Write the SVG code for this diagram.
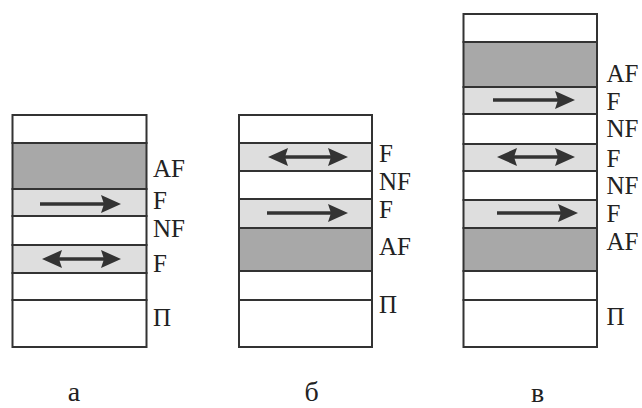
<svg xmlns="http://www.w3.org/2000/svg" width="642" height="408" viewBox="0 0 642 408">
<style>
.w{fill:#ffffff;stroke:#333333;stroke-width:2}
.d{fill:#a8a8a8;stroke:#333333;stroke-width:2}
.l{fill:#dedede;stroke:#333333;stroke-width:2}
.t{font-family:"Liberation Serif","Times New Roman",serif;font-size:25px;fill:#222222}
.c{font-family:"Liberation Serif","Times New Roman",serif;font-size:28px;fill:#222222;text-anchor:middle}
.ar{stroke:#333333;stroke-width:3.5;fill:none}
</style>
<defs>
<marker id="ah" markerUnits="userSpaceOnUse" markerWidth="20" markerHeight="18" viewBox="0 0 20 18" refX="10" refY="9" orient="auto-start-reverse">
<path d="M0,0 L20,9 L0,18 L3,9 z" fill="#333333"/>
</marker>
</defs>
<rect width="642" height="408" fill="#ffffff"/>
<g id="stack-a">
<rect class="w" x="12.5" y="115" width="134" height="28"/>
<rect class="d" x="12.5" y="143" width="134" height="46"/>
<rect class="l" x="12.5" y="189" width="134" height="27"/>
<rect class="w" x="12.5" y="216" width="134" height="29"/>
<rect class="l" x="12.5" y="245" width="134" height="28"/>
<rect class="w" x="12.5" y="273" width="134" height="27"/>
<rect class="w" x="12.5" y="300" width="134" height="47"/>
<text class="t" x="153" y="176.5">AF</text>
<text class="t" x="153" y="208.5">F</text>
<text class="t" x="153" y="236.5">NF</text>
<text class="t" x="153" y="271.5">F</text>
<text class="t" x="153" y="326">П</text>
<text class="c" x="74" y="401">а</text>
</g>
<g id="stack-b">
<rect class="w" x="239" y="115" width="133" height="28"/>
<rect class="l" x="239" y="143" width="133" height="28"/>
<rect class="w" x="239" y="171" width="133" height="28"/>
<rect class="l" x="239" y="199" width="133" height="29"/>
<rect class="d" x="239" y="228" width="133" height="43"/>
<rect class="w" x="239" y="271" width="133" height="29"/>
<rect class="w" x="239" y="300" width="133" height="47"/>
<text class="t" x="379" y="161.5">F</text>
<text class="t" x="379" y="190">NF</text>
<text class="t" x="379" y="218">F</text>
<text class="t" x="379" y="255">AF</text>
<text class="t" x="379" y="313">П</text>
<text class="c" x="311.5" y="401">б</text>
</g>
<g id="stack-c">
<rect class="w" x="463.5" y="14" width="133.5" height="28"/>
<rect class="d" x="463.5" y="42" width="133.5" height="45"/>
<rect class="l" x="463.5" y="87" width="133.5" height="27"/>
<rect class="w" x="463.5" y="114" width="133.5" height="30"/>
<rect class="l" x="463.5" y="144" width="133.5" height="27"/>
<rect class="w" x="463.5" y="171" width="133.5" height="29"/>
<rect class="l" x="463.5" y="200" width="133.5" height="28"/>
<rect class="d" x="463.5" y="228" width="133.5" height="43"/>
<rect class="w" x="463.5" y="271" width="133.5" height="29"/>
<rect class="w" x="463.5" y="300" width="133.5" height="47"/>
<text class="t" x="606.5" y="81.5">AF</text>
<text class="t" x="606.5" y="110">F</text>
<text class="t" x="606.5" y="136.5">NF</text>
<text class="t" x="606.5" y="166.5">F</text>
<text class="t" x="606.5" y="193.5">NF</text>
<text class="t" x="606.5" y="221.5">F</text>
<text class="t" x="606.5" y="250">AF</text>
<text class="t" x="606.5" y="325">П</text>
<text class="c" x="537.5" y="402">в</text>
</g>
<g id="arrows">
<line class="ar" x1="40" y1="204" x2="111" y2="204" marker-end="url(#ah)"/>
<line class="ar" x1="52" y1="259" x2="111" y2="259" marker-start="url(#ah)" marker-end="url(#ah)"/>
<line class="ar" x1="278" y1="157" x2="338" y2="157" marker-start="url(#ah)" marker-end="url(#ah)"/>
<line class="ar" x1="267" y1="213" x2="338" y2="213" marker-end="url(#ah)"/>
<line class="ar" x1="493" y1="100" x2="565" y2="100" marker-end="url(#ah)"/>
<line class="ar" x1="507" y1="157" x2="565" y2="157" marker-start="url(#ah)" marker-end="url(#ah)"/>
<line class="ar" x1="497" y1="213" x2="568" y2="213" marker-end="url(#ah)"/>
</g>
</svg>
